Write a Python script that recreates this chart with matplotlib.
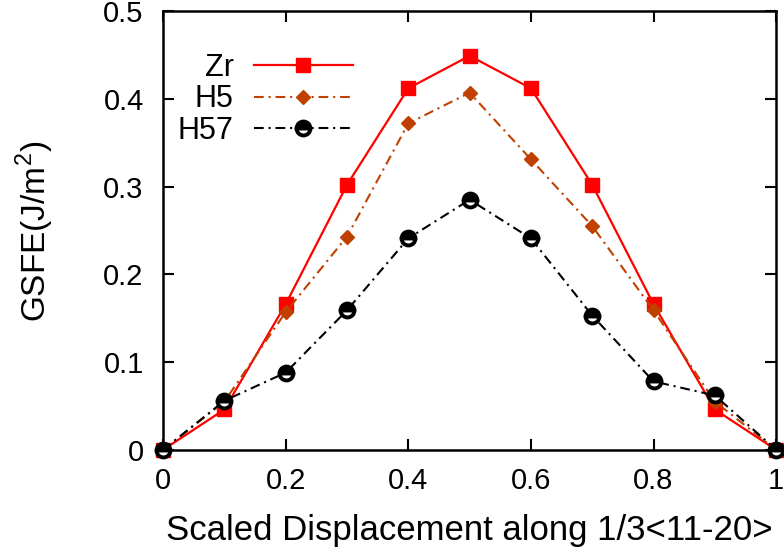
import numpy as np
import matplotlib
matplotlib.use("Agg")
import matplotlib.pyplot as plt

plt.rcParams['font.family'] = ['Liberation Sans', 'DejaVu Sans']
plt.rcParams['mathtext.fontset'] = 'custom'
plt.rcParams['mathtext.rm'] = 'Liberation Sans'
plt.rcParams['lines.scale_dashes'] = False

disp = [0.0, 0.1, 0.2, 0.3, 0.4, 0.5, 0.6, 0.7, 0.8, 0.9, 1.0]
zr = [0.0, 0.046, 0.166, 0.302, 0.412, 0.449, 0.412, 0.302, 0.166, 0.046, 0.0]
h5 = [0.0, 0.055, 0.157, 0.243, 0.372, 0.407, 0.331, 0.255, 0.159, 0.055, 0.0]
h57 = [0.0, 0.056, 0.088, 0.159, 0.241, 0.285, 0.241, 0.153, 0.078, 0.062, 0.0]

xticks = [0, 0.2, 0.4, 0.6, 0.8, 1]
xticklabels = ["0", "0.2", "0.4", "0.6", "0.8", "1"]
yticks = [0, 0.1, 0.2, 0.3, 0.4, 0.5]
yticklabels = ["0", "0.1", "0.2", "0.3", "0.4", "0.5"]

fig = plt.figure(figsize=(7.84, 5.54), dpi=100)
ax = fig.add_axes([0.208, 0.188, 0.782, 0.792])

ax.plot(disp, zr, color='#ff0000', lw=1.6, marker='s', ms=10, label='Zr',
        clip_on=False, zorder=3)
ax.plot(disp, h5, color='#c04000', lw=1.5, dashes=[7, 3.5, 1.5, 3.5], marker='D',
        ms=7.5, label='H5', clip_on=False, zorder=4)
ax.plot(disp, h57, color='black', lw=1.5, dashes=[7, 3.5, 1.5, 3.5], marker='o',
        ms=10, mew=2.8, mfc='black', mec='black', fillstyle='top',
        markerfacecoloralt='white', label='H57', clip_on=False, zorder=5)

ax.set_xlim(0, 1)
ax.set_ylim(0, 0.5)
ax.set_xticks(xticks)
ax.set_xticklabels(xticklabels)
ax.set_yticks(yticks)
ax.set_yticklabels(yticklabels)
ax.tick_params(direction='in', length=8, width=1.5, labelsize=21, top=True, right=True)
ax.tick_params(axis='x', pad=12)
ax.tick_params(axis='y', pad=14)
for s in ax.spines.values():
    s.set_linewidth(1.8)

ax.set_xlabel("Scaled Displacement along 1/3<11-20>", fontsize=25, labelpad=14)
ax.set_ylabel("GSFE(J/m$^2$)", fontsize=24)
ax.yaxis.set_label_coords(-0.174, 0.497)

leg = ax.legend(loc='upper left', bbox_to_anchor=(0.024, 0.905), frameon=False,
                markerfirst=False, fontsize=22, handlelength=3.25, handletextpad=0.65,
                labelspacing=0.05, borderpad=0, borderaxespad=0)
for col in leg._legend_handle_box.get_children():
    col.align = 'right'

fig.savefig("out.png", dpi=100)
